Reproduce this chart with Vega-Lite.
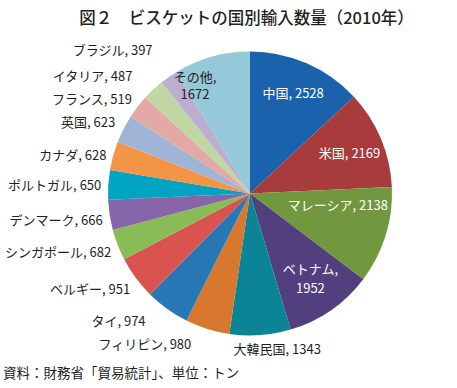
{
  "$schema": "https://vega.github.io/schema/vega-lite/v6.json",
  "autosize": {"type": "pad"},
  "padding": {"left": 3, "top": 10.5, "right": 0, "bottom": 0},
  "config": {"view": {"stroke": null}, "font": "Noto Sans CJK JP"},
  "title": {"text": "図２　ビスケットの国別輸入数量（2010年）", "fontSize": 16.5, "font": "Noto Sans CJK JP", "fontWeight": 500, "color": "#231f20", "anchor": "middle", "frame": "group", "dx": -3.5, "offset": -5},
  "data": {"values": [
    {"rank": 1, "name": "中国", "value": 2528, "label": "中国, 2528"},
    {"rank": 2, "name": "米国", "value": 2169, "label": "米国, 2169"},
    {"rank": 3, "name": "マレーシア", "value": 2138, "label": "マレーシア, 2138"},
    {"rank": 4, "name": "ベトナム", "value": 1952, "label": "ベトナム,\n1952"},
    {"rank": 5, "name": "大韓民国", "value": 1343, "label": "大韓民国, 1343"},
    {"rank": 6, "name": "フィリピン", "value": 980, "label": "フィリピン, 980"},
    {"rank": 7, "name": "タイ", "value": 974, "label": "タイ, 974"},
    {"rank": 8, "name": "ベルギー", "value": 951, "label": "ベルギー, 951"},
    {"rank": 9, "name": "シンガポール", "value": 682, "label": "シンガポール, 682"},
    {"rank": 10, "name": "デンマーク", "value": 666, "label": "デンマーク, 666"},
    {"rank": 11, "name": "ポルトガル", "value": 650, "label": "ポルトガル, 650"},
    {"rank": 12, "name": "カナダ", "value": 628, "label": "カナダ, 628"},
    {"rank": 13, "name": "英国", "value": 623, "label": "英国, 623"},
    {"rank": 14, "name": "フランス", "value": 519, "label": "フランス, 519"},
    {"rank": 15, "name": "イタリア", "value": 487, "label": "イタリア, 487"},
    {"rank": 16, "name": "ブラジル", "value": 397, "label": "ブラジル, 397"},
    {"rank": 17, "name": "その他", "value": 1672, "label": "その他,\n1672"}
  ]},
  "vconcat": [{
    "width": 300,
    "height": 300,
    "title": {"text": "資料：財務省「貿易統計」、単位：トン", "orient": "bottom", "anchor": "start", "frame": "group", "dx": -97, "fontSize": 13.5, "fontWeight": "normal", "offset": 3, "color": "#231f20", "font": "Noto Sans CJK JP"},
    "encoding": {
      "theta": {"field": "value", "type": "quantitative", "stack": true},
      "order": {"field": "rank", "type": "quantitative"}
    },
    "layer": [
      {
        "mark": {"type": "arc", "outerRadius": 142, "strokeWidth": 0},
        "encoding": {
          "color": {"field": "name", "type": "nominal", "legend": null,
            "scale": {
              "domain": ["中国","米国","マレーシア","ベトナム","大韓民国","フィリピン","タイ","ベルギー","シンガポール","デンマーク","ポルトガル","カナダ","英国","フランス","イタリア","ブラジル","その他"],
              "range": ["#1a62ab","#a83b3b","#72983f","#523f7e","#0b8497","#d8782f","#2878b6","#d9534f","#89bb57","#8665a9","#00a4c0","#f39447","#a0b5d6","#e4a8a6","#c0d6a3","#bdadd0","#95c8d8"]
            }
          }
        }
      },
      {
        "mark": {"type": "text", "radius": 108, "fontSize": 13, "color": "white", "align": "center", "baseline": "middle"},
        "encoding": {"text": {"condition": {"test": "datum.name == '中国'", "field": "label"}, "value": ""}}
      },
      {
        "mark": {"type": "text", "radius": 108, "dy": 2, "fontSize": 13, "color": "white", "align": "center", "baseline": "middle"},
        "encoding": {"text": {"condition": {"test": "datum.name == '米国'", "field": "label"}, "value": ""}}
      },
      {
        "mark": {"type": "text", "radius": 92, "dy": -15, "fontSize": 13, "color": "white", "align": "center", "baseline": "middle"},
        "encoding": {"text": {"condition": {"test": "datum.name == 'マレーシア'", "field": "label"}, "value": ""}}
      },
      {
        "mark": {"type": "text", "radius": 106, "dy": -11, "fontSize": 13, "color": "white", "align": "center", "baseline": "middle", "lineBreak": "\n", "lineHeight": 19},
        "encoding": {"text": {"condition": {"test": "datum.name == 'ベトナム'", "field": "label"}, "value": ""}}
      },
      {
        "mark": {"type": "text", "radius": 112, "dx": -25, "dy": -8, "fontSize": 13, "color": "#231f20", "align": "center", "baseline": "middle", "lineBreak": "\n", "lineHeight": 17},
        "encoding": {"text": {"condition": {"test": "datum.name == 'その他'", "field": "label"}, "value": ""}}
      },
      {
        "mark": {"type": "text", "radius": 149, "dy": 2, "fontSize": 13, "color": "#231f20", "align": "right", "baseline": "middle"},
        "encoding": {"text": {"condition": {"test": "indexof(['ポルトガル','カナダ'], datum.name) >= 0", "field": "label"}, "value": ""}}
      },
      {
        "mark": {"type": "text", "radius": 149, "dy": 5, "fontSize": 13, "color": "#231f20", "align": "right", "baseline": "middle"},
        "encoding": {"text": {"condition": {"test": "indexof(['シンガポール','デンマーク'], datum.name) >= 0", "field": "label"}, "value": ""}}
      },
      {
        "mark": {"type": "text", "radius": 149, "dy": 8, "fontSize": 13, "color": "#231f20", "align": "right", "baseline": "middle"},
        "encoding": {"text": {"condition": {"test": "datum.name == 'ベルギー'", "field": "label"}, "value": ""}}
      },
      {
        "mark": {"type": "text", "radius": 149, "dy": -2, "fontSize": 13, "color": "#231f20", "align": "right", "baseline": "middle"},
        "encoding": {"text": {"condition": {"test": "datum.name == 'フランス'", "field": "label"}, "value": ""}}
      },
      {
        "mark": {"type": "text", "radius": 149, "dy": -3, "dx": -2, "fontSize": 13, "color": "#231f20", "align": "right", "baseline": "middle"},
        "encoding": {"text": {"condition": {"test": "datum.name == '英国'", "field": "label"}, "value": ""}}
      },
      {
        "mark": {"type": "text", "radius": 162, "dx": -10, "dy": -3, "fontSize": 13, "color": "#231f20", "align": "right", "baseline": "middle"},
        "encoding": {"text": {"condition": {"test": "indexof(['タイ','フィリピン'], datum.name) >= 0", "field": "label"}, "value": ""}}
      },
      {
        "mark": {"type": "text", "radius": 162, "dx": -7, "dy": 2, "fontSize": 13, "color": "#231f20", "align": "right", "baseline": "middle"},
        "encoding": {"text": {"condition": {"test": "datum.name == 'イタリア'", "field": "label"}, "value": ""}}
      },
      {
        "mark": {"type": "text", "radius": 162, "dx": -5, "dy": -9, "fontSize": 13, "color": "#231f20", "align": "right", "baseline": "middle"},
        "encoding": {"text": {"condition": {"test": "datum.name == 'ブラジル'", "field": "label"}, "value": ""}}
      },
      {
        "mark": {"type": "text", "radius": 157, "dx": 16, "fontSize": 13, "color": "#231f20", "align": "center", "baseline": "middle"},
        "encoding": {"text": {"condition": {"test": "datum.name == '大韓民国'", "field": "label"}, "value": ""}}
      }
    ]
  }]
}
